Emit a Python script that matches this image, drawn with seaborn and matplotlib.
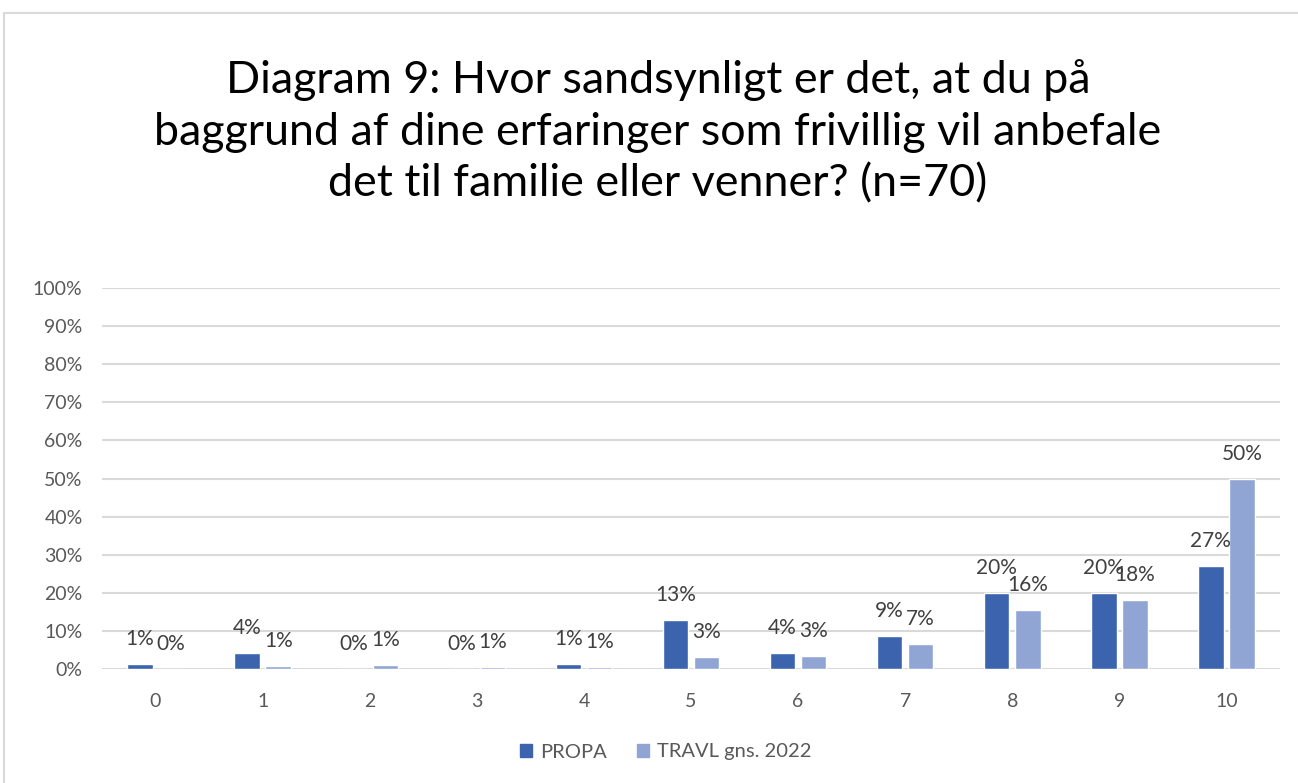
import matplotlib
matplotlib.use("Agg")
import matplotlib.pyplot as plt
from matplotlib.patches import Rectangle
import numpy as np
import pandas as pd
import seaborn as sns

# ── Data ──────────────────────────────────────────────────────
categories = ["0", "1", "2", "3", "4", "5", "6", "7", "8", "9", "10"]
propa = [1.43, 4.29, 0.0, 0.0, 1.43, 12.86, 4.29, 8.57, 20.0, 20.0, 27.14]
travl = [0.1, 0.8, 1.0, 0.6, 0.6, 3.2, 3.4, 6.6, 15.6, 18.0, 50.0]
series = ["PROPA", "TRAVL gns. 2022"]
colors = ["#3C64AE", "#91A5D5"]
yticks = list(range(0, 101, 10))

title = ("Diagram 9: Hvor sandsynligt er det, at du på\n"
         "baggrund af dine erfaringer som frivillig vil anbefale\n"
         "det til familie eller venner? (n=70)")

df = pd.DataFrame({
    "kategori": categories * 2,
    "serie": [series[0]] * len(categories) + [series[1]] * len(categories),
    "andel": propa + travl,
})

# ── Plot ──────────────────────────────────────────────────────
sns.set_theme(style="white")
plt.rcParams["font.family"] = ["Lato", "DejaVu Sans"]

fig = plt.figure(figsize=(12.98, 7.83), dpi=100)
ax = fig.add_axes([102 / 1298, 1 - 669 / 783, (1280 - 102) / 1298, (669 - 288) / 783])

sns.barplot(data=df, x="kategori", y="andel", hue="serie", order=categories,
            hue_order=series, palette=colors, width=0.58, gap=0.18,
            saturation=1, ax=ax, legend=False)

for cont in ax.containers:
    for p in cont:
        h = p.get_height()
        ax.annotate(f"{h:.0f}%", (p.get_x() + p.get_width() / 2, h),
                    xytext=(0, 18), textcoords="offset points",
                    ha="center", va="center", fontsize=15, color="#404040")

ax.set_xlim(-0.5, 10.5)
ax.set_ylim(0, 100)
ax.set_yticks(yticks)
ax.set_yticklabels([f"{t}%" for t in yticks])
ax.grid(axis="y", color="#D9D9D9", linewidth=1.5)
ax.set_axisbelow(True)
for s in ax.spines.values():
    s.set_visible(False)
ax.tick_params(axis="both", length=0, labelsize=14, labelcolor="#595959")
ax.tick_params(axis="x", pad=17)
ax.tick_params(axis="y", pad=14)
ax.set_xlabel("")
ax.set_ylabel("")

fig.text(0.507, 1 - 132 / 783, title, ha="center", va="center",
         fontsize=32.3, color="#000000", linespacing=1.32)

handles = [Rectangle((0, 0), 1, 1, color=c) for c in colors]
fig.legend(handles, series, loc="center", bbox_to_anchor=(0.513, 1 - 752 / 783),
           ncol=2, frameon=False, fontsize=14.5, handlelength=0.6,
           handleheight=0.6, handletextpad=0.4, columnspacing=1.5,
           labelcolor="#595959")

# chart border
fig.patches.append(Rectangle((4 / 1298, -0.02), 1.0, 1 - 13 / 783 + 0.02,
                             transform=fig.transFigure, fill=False,
                             edgecolor="#D9D9D9", linewidth=1.5))

fig.savefig("out.png", dpi=100)
